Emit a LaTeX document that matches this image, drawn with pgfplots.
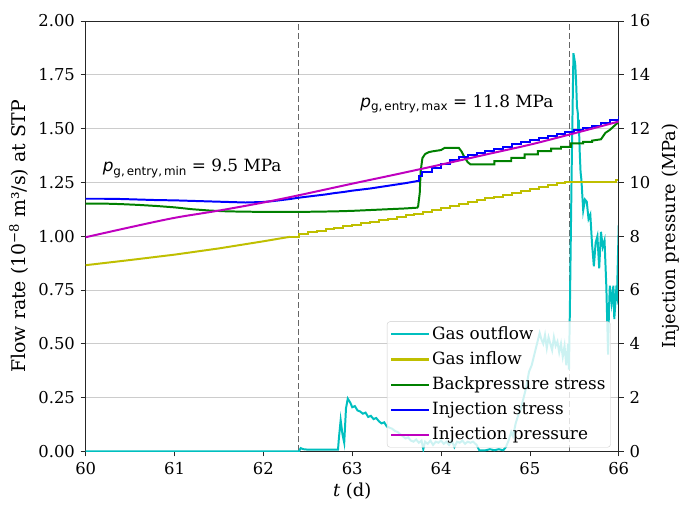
\documentclass[border=0pt]{standalone}
\usepackage{fontspec}
\setmainfont{DejaVu Serif}
\newfontfamily\dvs{DejaVu Sans}
\usepackage{pgfplots}
\pgfplotsset{compat=1.18}
\definecolor{mc}{rgb}{0,0.75,0.75}
\definecolor{my}{rgb}{0.75,0.75,0}
\definecolor{mg}{rgb}{0,0.5,0}
\definecolor{mb}{rgb}{0,0,1}
\definecolor{mm}{rgb}{0.75,0,0.75}
\pgfplotsset{
  mybase/.style={
    scale only axis, width=535bp, height=432bp,
    xmin=60, xmax=66,
    tick align=outside, major tick length=5bp,
    axis line style={black!85, line width=0.8pt},
    every tick/.style={black!85, line width=0.8pt},
    /pgf/number format/assume math mode=true,
    tick label style={font=\fontsize{16.5}{19}\selectfont},
    label style={font=\fontsize{18}{21}\selectfont},
  }
}
\begin{document}
\fontsize{17}{20}\selectfont
\begin{tikzpicture}
\begin{axis}[mybase, name=ax,
  ymin=0, ymax=2,
  xtick={60,61,62,63,64,65,66}, xtick pos=bottom, ytick pos=left,
  ytick={0,0.25,0.5,0.75,1,1.25,1.5,1.75,2},
  yticklabel style={/pgf/number format/.cd, fixed, fixed zerofill, precision=2},
  xticklabel style={/pgf/number format/.cd, fixed, precision=0},
  ymajorgrids, grid style={black!20, line width=0.8pt},
  xlabel={\textit{t} (d)},
  ylabel={Flow rate (10\textsuperscript{−8} m³/s) at STP},
  xlabel style={yshift=3bp},
  ylabel style={yshift=-1bp, font=\fontsize{19}{22}\selectfont},
]
\draw[black!60, dash pattern=on 6bp off 3bp, line width=1.1pt] (axis cs:62.4,0) -- (axis cs:62.4,2);
\draw[black!60, dash pattern=on 6bp off 3bp, line width=1.1pt] (axis cs:65.45,0) -- (axis cs:65.45,2);
% Gas outflow
\addplot[mc, line width=2pt] coordinates {
(60.0,0) (62.40,0) (62.42,0.015) (62.45,0.01) (62.5,0.008) (62.7,0.008) (62.84,0.008)
(62.85,0.06) (62.87,0.145) (62.89,0.08) (62.91,0.04) (62.93,0.2) (62.95,0.245) (62.98,0.225)
(63.0,0.205) (63.03,0.21) (63.06,0.19) (63.09,0.185) (63.12,0.175) (63.15,0.18) (63.18,0.16)
(63.21,0.165) (63.24,0.15) (63.27,0.155) (63.30,0.14) (63.33,0.13) (63.36,0.135) (63.39,0.115)
(63.42,0.11) (63.45,0.105) (63.48,0.095) (63.51,0.09) (63.54,0.08) (63.57,0.07) (63.60,0.06)
(63.63,0.065) (63.66,0.05) (63.69,0.045) (63.72,0.055) (63.75,0.04) (63.78,0.05) (63.80,0.01)
(63.82,0.045) (63.85,0.035) (63.88,0.05) (63.91,0.03) (63.94,0.045) (63.97,0.04) (64.0,0.05)
(64.03,0.035) (64.06,0.045) (64.09,0.03) (64.12,0.05) (64.15,0.02) (64.18,0.045) (64.21,0.04)
(64.24,0.05) (64.27,0.035) (64.30,0.045) (64.33,0.04) (64.36,0.045) (64.40,0.03) (64.43,0.005)
(64.5,0.005) (64.55,0.01) (64.6,0.005) (64.65,0.01) (64.7,0.005) (64.73,0.02) (64.76,0.05)
(64.79,0.09) (64.81,0.07) (64.84,0.13) (64.87,0.17) (64.9,0.2) (64.93,0.25) (64.96,0.3)
(64.99,0.37) (65.02,0.4) (65.05,0.45) (65.08,0.5) (65.11,0.55) (65.13,0.52) (65.15,0.5)
(65.17,0.54) (65.19,0.48) (65.21,0.53) (65.23,0.5) (65.25,0.47) (65.27,0.53) (65.29,0.49)
(65.31,0.51) (65.33,0.46) (65.35,0.5) (65.37,0.44) (65.39,0.49) (65.41,0.4) (65.43,0.5)
(65.44,0.38) (65.45,0.66) (65.47,1.3) (65.49,1.85) (65.51,1.8) (65.52,1.72) (65.53,1.6)
(65.54,1.57) (65.545,1.48) (65.55,1.54) (65.56,1.4) (65.57,1.3) (65.58,1.26) (65.6,1.12)
(65.62,1.17) (65.64,1.16) (65.66,1.08) (65.68,1.10) (65.70,0.96) (65.72,0.86) (65.74,0.97)
(65.76,1.0) (65.78,0.85) (65.80,1.02) (65.82,0.95) (65.84,0.98) (65.86,0.77) (65.88,0.45)
(65.89,0.66) (65.90,0.77) (65.92,0.69) (65.94,0.77) (65.95,0.615) (65.97,0.74) (65.98,0.72)
(66.0,1.05)
};
% Gas inflow
\addplot[my, line width=2pt] coordinates {
(60.0,0.865) (60.5,0.889) (61.0,0.914) (61.5,0.943) (62.0,0.976) (62.3,0.997)
};
\addplot[my, line width=2pt, const plot] coordinates {
(62.3,0.997) (62.4,1.01) (62.5,1.017) (62.6,1.024) (62.7,1.031)
(62.8,1.038) (62.9,1.045) (63.0,1.052) (63.1,1.059) (63.2,1.066) (63.3,1.073) (63.4,1.080)
(63.5,1.088) (63.6,1.096) (63.7,1.104) (63.8,1.112) (63.9,1.121) (64.0,1.130) (64.1,1.139)
(64.2,1.148) (64.3,1.157) (64.4,1.166) (64.5,1.175) (64.6,1.184) (64.7,1.193) (64.8,1.202)
(64.9,1.211) (65.0,1.220) (65.1,1.229) (65.2,1.238) (65.3,1.247) (65.4,1.25) (65.45,1.252)
(65.97,1.262) (66.0,1.262)
};
\node[anchor=base west, inner sep=0pt] at (axis cs:60.19,1.302)
  {{\dvs\itshape p}\raisebox{-0.45ex}{\dvs\fontsize{12}{14}\selectfont g,\,entry,\,min}\ = 9.5 MPa};
\node[anchor=base west, inner sep=0pt] at (axis cs:63.09,1.600)
  {{\dvs\itshape p}\raisebox{-0.45ex}{\dvs\fontsize{12}{14}\selectfont g,\,entry,\,max}\ = 11.8 MPa};
\end{axis}
\begin{axis}[mybase, at={(ax.south west)}, anchor=south west,
  ymin=0, ymax=16, ytick={0,2,...,16},
  axis x line=none, axis y line*=right,
  ylabel={Injection pressure (MPa)},
  legend cell align=left,
  legend style={at={(0.985,0.009)}, anchor=south east,
    fill=white, fill opacity=0.8, text opacity=1, draw opacity=1,
    draw=black!20, rounded corners=3pt, font=\fontsize{17}{20}\selectfont,
    row sep=6bp, inner sep=3bp},
  legend image code/.code={\draw[#1, line width=2.2pt, opacity=1] (0bp,0bp) -- (38bp,0bp);},
]
\addlegendimage{mc}
\addlegendentry{Gas outflow}
\addlegendimage{my}
\addlegendentry{Gas inflow}
% Backpressure stress
\addplot[mg, line width=2pt, forget plot] coordinates {
(60.0,9.21) (60.2,9.21) (60.4,9.19) (60.6,9.16) (60.8,9.12) (61.0,9.07) (61.2,9.0)
(61.4,8.95) (61.6,8.92) (61.8,8.91) (62.0,8.9) (62.2,8.9) (62.4,8.9) (62.6,8.91)
(62.8,8.92) (63.0,8.94) (63.2,8.97) (63.4,9.0) (63.6,9.03) (63.74,9.06)
};
\addplot[mg, line width=2pt] coordinates {
(63.74,9.06) (63.76,9.6) (63.77,10.4) (63.79,10.9) (63.82,11.05) (63.86,11.12) (63.9,11.15)
(64.0,11.2) (64.04,11.28) (64.2,11.28) (64.23,11.15) (64.26,10.95) (64.3,10.75) (64.33,10.67)
(64.6,10.67) (64.6,10.79) (64.79,10.79) (64.79,10.91) (64.94,10.91) (64.94,11.04)
(65.09,11.04) (65.09,11.16) (65.24,11.16) (65.24,11.25) (65.35,11.25) (65.35,11.32)
(65.46,11.32) (65.46,11.45) (65.6,11.45) (65.6,11.5) (65.7,11.5) (65.7,11.55) (65.8,11.6)
(65.85,11.84) (65.9,11.95) (65.95,12.1) (66.0,12.25)
};
\addlegendentry{Backpressure stress}
% Injection stress
\addplot[mb, line width=2pt, forget plot] coordinates {
(60.0,9.39) (60.2,9.39) (60.4,9.38) (60.6,9.36) (60.8,9.34) (61.0,9.33) (61.2,9.31)
(61.4,9.29) (61.6,9.27) (61.8,9.25) (62.0,9.27) (62.1,9.3) (62.2,9.34) (62.3,9.38)
(62.4,9.43) (62.5,9.47) (62.6,9.51) (62.7,9.55) (62.8,9.6) (62.9,9.64) (63.0,9.69)
(63.1,9.73) (63.2,9.77) (63.3,9.82) (63.4,9.87) (63.5,9.92) (63.6,9.97) (63.72,10.04)
};
\addplot[mb, line width=2pt, const plot] coordinates {
(63.72,10.04) (63.75,10.22) (63.78,10.4) (63.9,10.54) (64.0,10.68) (64.1,10.84) (64.2,10.93) (64.3,11.02)
(64.4,11.1) (64.5,11.18) (64.6,11.25) (64.7,11.33) (64.8,11.41) (64.9,11.49) (65.0,11.57)
(65.1,11.64) (65.2,11.72) (65.3,11.8) (65.4,11.87) (65.5,11.94) (65.6,12.02) (65.7,12.1)
(65.8,12.2) (65.9,12.3) (66.0,12.45)
};
\addlegendentry{Injection stress}
% Injection pressure
\addplot[mm, line width=2pt, smooth] coordinates {
(60.0,7.96) (60.5,8.33) (61.0,8.68) (61.5,8.95) (62.0,9.25) (62.4,9.52) (63.0,9.95)
(63.5,10.3) (64.0,10.66) (64.5,11.03) (65.0,11.4) (65.45,11.78) (66.0,12.26)
};
\addlegendentry{Injection pressure}
\end{axis}
\path ([shift={(-86bp,-44bp)}]ax.south west) rectangle ([shift={(64bp,21bp)}]ax.north east);
\end{tikzpicture}
\end{document}
